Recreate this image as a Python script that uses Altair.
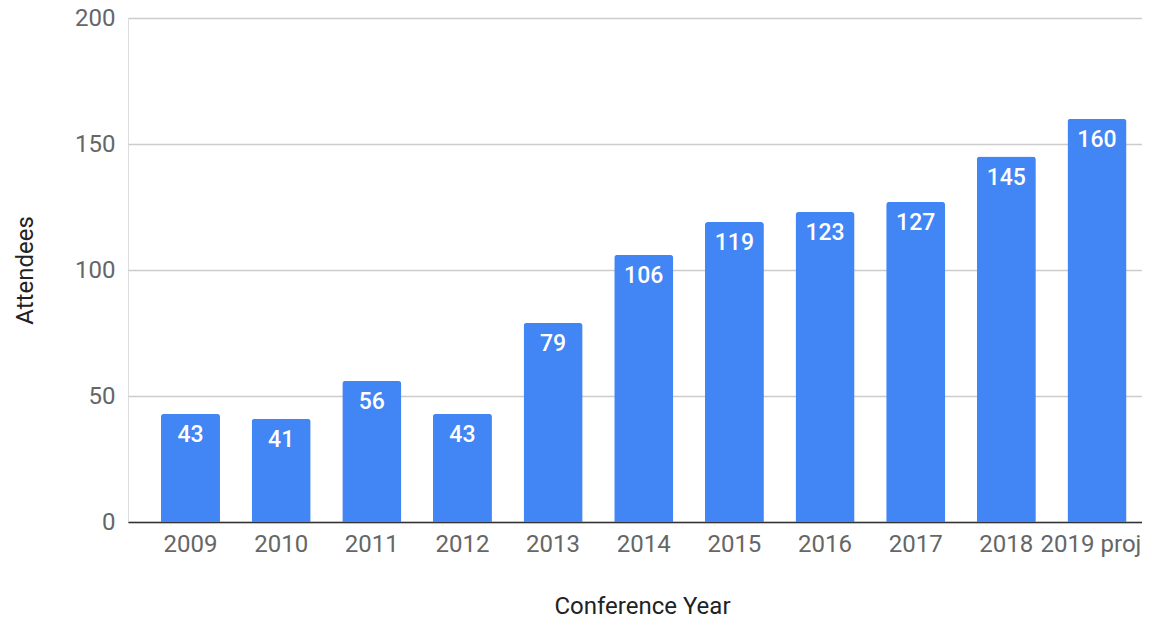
import altair as alt
import pandas as pd

years = ["2009", "2010", "2011", "2012", "2013", "2014", "2015", "2016", "2017", "2018", "2019 proj"]
attendees = [43, 41, 56, 43, 79, 106, 119, 123, 127, 145, 160]
y_ticks = [0, 50, 100, 150, 200]

df = pd.DataFrame({"year": years, "attendees": attendees})

W, H = 1014, 504
FONT = "Roboto"

x = alt.X(
    "year:N",
    sort=years,
    scale=alt.Scale(paddingInner=0.349, paddingOuter=0.2675, align=0.68),
    axis=alt.Axis(
        title="Conference Year",
        labelAngle=0,
        labelFontSize=24,
        labelColor="#666666",
        labelFont=FONT,
        labelPadding=10,
        labelOffset={"condition": {"test": "datum.value === '2019 proj'", "value": -6}, "value": 0},
        ticks=False,
        domain=True,
        domainColor="#333333",
        domainWidth=1.5,
        grid=False,
        titleFont=FONT,
        titleFontSize=24,
        titleFontWeight="normal",
        titleColor="#222222",
        titleX=514,
        titleY=84,
        titleBaseline="middle",
        titleAlign="center",
    ),
)

y_axis = alt.Axis(
    title="Attendees",
    values=y_ticks,
    labelFontSize=24,
    labelColor="#666666",
    labelFont=FONT,
    labelPadding=13,
    ticks=False,
    domain=False,
    grid=True,
    gridColor="#cccccc",
    gridWidth=1.5,
    titleFont=FONT,
    titleFontSize=24,
    titleFontWeight="normal",
    titleColor="#222222",
    titleAngle=270,
    titleX=-103,
    titleY=H / 2,
    titleBaseline="middle",
    titleAlign="center",
)

base = alt.Chart(df)

bars = base.mark_bar(
    color="#4285F4",
    cornerRadiusTopLeft=3,
    cornerRadiusTopRight=3,
).encode(
    x=x,
    y=alt.Y("attendees:Q", scale=alt.Scale(domain=[0, 200], nice=False), axis=y_axis),
)

labels = base.mark_text(
    color="white",
    font=FONT,
    fontSize=23,
    fontWeight=500,
    baseline="middle",
    align="center",
    dy=21,
).encode(
    x=alt.X("year:N", sort=years),
    y=alt.Y("attendees:Q"),
    text=alt.Text("attendees:Q"),
)

chart = (
    alt.layer(bars, labels)
    .properties(
        width=W,
        height=H,
        autosize=alt.AutoSizeParams(type="none"),
        padding={"left": 120, "top": 10, "right": 0, "bottom": 96},
    )
    .configure_view(stroke=None)
    .configure(background="white")
)

chart.save("out.html", embed_options={"renderer": "svg", "actions": False})
